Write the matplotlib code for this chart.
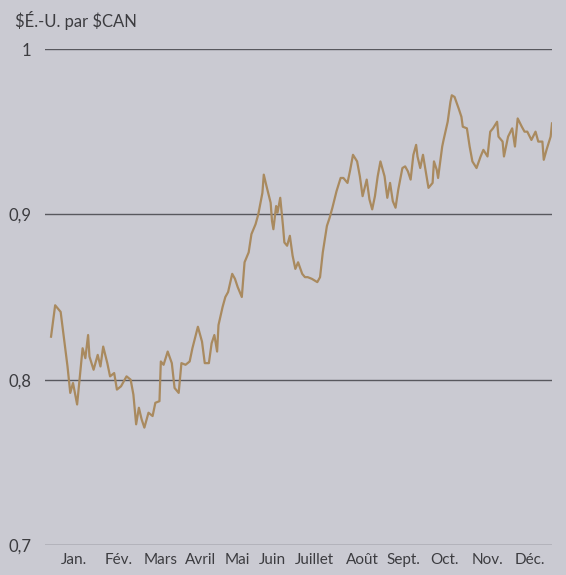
import matplotlib
matplotlib.use("Agg")
import matplotlib.pyplot as plt

plt.rcParams['font.family'] = ['Lato', 'DejaVu Sans']

# Day of year (0 = 1 Jan) and exchange rate ($US per $CAN)
days = [0, 3, 7, 9, 12, 14, 16, 19, 21, 23, 25, 27, 28, 31, 34, 36, 38, 41, 43, 46,
        48, 51, 55, 58, 60, 62, 64, 66, 68, 71, 74, 76, 79, 80, 82, 85, 88, 90, 93, 95,
        98, 101, 103, 107, 110, 112, 115, 117, 119, 121, 122, 125, 127, 129, 132, 134, 136, 139, 141, 144,
        146, 149, 151, 154, 155, 157, 160, 161, 162, 164, 165, 167, 169, 170, 172, 174, 176, 178, 180, 183,
        185, 187, 190, 194, 196, 198, 201, 203, 205, 208, 211, 213, 216, 218, 220, 223, 225, 227, 230, 232,
        234, 236, 238, 240, 243, 245, 247, 249, 251, 253, 256, 258, 260, 262, 264, 266, 267, 269, 271, 274,
        275, 278, 279, 281, 282, 285, 286, 289, 291, 292, 294, 297, 299, 300, 303, 305, 307, 310, 313, 315,
        318, 320, 322, 325, 326, 329, 330, 333, 336, 338, 340, 343, 345, 347, 350, 353, 355, 358, 359, 361,
        364, 365]
rates = [0.826, 0.845, 0.841, 0.828, 0.808, 0.792, 0.798, 0.785, 0.802, 0.819, 0.813, 0.827, 0.814, 0.806, 0.815, 0.808, 0.820, 0.810, 0.802, 0.804,
         0.794, 0.796, 0.802, 0.800, 0.791, 0.773, 0.783, 0.776, 0.771, 0.780, 0.778, 0.786, 0.787, 0.811, 0.809, 0.817, 0.810, 0.795, 0.792, 0.810,
         0.809, 0.811, 0.819, 0.832, 0.823, 0.810, 0.810, 0.822, 0.827, 0.817, 0.833, 0.844, 0.850, 0.853, 0.864, 0.861, 0.856, 0.850, 0.871, 0.877,
         0.888, 0.894, 0.900, 0.913, 0.924, 0.917, 0.907, 0.896, 0.891, 0.905, 0.901, 0.910, 0.893, 0.883, 0.881, 0.887, 0.875, 0.867, 0.871, 0.864,
         0.862, 0.862, 0.861, 0.859, 0.862, 0.877, 0.893, 0.898, 0.904, 0.914, 0.922, 0.922, 0.919, 0.927, 0.936, 0.932, 0.923, 0.911, 0.921, 0.909,
         0.903, 0.911, 0.923, 0.932, 0.923, 0.910, 0.919, 0.908, 0.904, 0.915, 0.928, 0.929, 0.926, 0.921, 0.936, 0.942, 0.935, 0.928, 0.936, 0.921,
         0.916, 0.919, 0.932, 0.927, 0.922, 0.941, 0.945, 0.956, 0.968, 0.972, 0.971, 0.964, 0.959, 0.953, 0.952, 0.941, 0.932, 0.928, 0.935, 0.939,
         0.935, 0.950, 0.952, 0.956, 0.947, 0.944, 0.935, 0.947, 0.952, 0.941, 0.958, 0.953, 0.950, 0.950, 0.945, 0.950, 0.944, 0.944, 0.933, 0.939,
         0.947, 0.955]

months = ['Jan.', 'Fév.', 'Mars', 'Avril', 'Mai', 'Juin', 'Juillet', 'Août',
          'Sept.', 'Oct.', 'Nov.', 'Déc.']
month_pos = [17, 49, 80, 109, 136, 161, 192, 227, 257, 287, 318, 349]

y_ticks = [0.7, 0.8, 0.9, 1.0]
y_labels = ['0,7', '0,8', '0,9', '1']

bg = '#cacad2'
text_col = '#3c3c40'

fig = plt.figure(figsize=(5.66, 5.75), dpi=100, facecolor=bg)
ax = fig.add_axes([45/566, 1 - 545/575, 507/566, 496/575], facecolor=bg)

for yv in y_ticks:
    ax.axhline(yv, color='#58585e', lw=1.0, zorder=1)

ax.plot(days, rates, color='#a98a5f', lw=1.6, zorder=3, solid_joinstyle='round')

ax.set_xlim(-4.4, 365)
ax.set_ylim(0.7, 1.0)
ax.set_yticks(y_ticks)
ax.set_yticklabels(y_labels)
ax.set_xticks(month_pos)
ax.set_xticklabels(months)
ax.tick_params(axis='both', length=0, colors=text_col)
ax.tick_params(axis='y', pad=10, labelsize=12)
ax.tick_params(axis='x', pad=6, labelsize=11)
for s in ax.spines.values():
    s.set_visible(False)

fig.text(15/566, 1 - 21/575, '\\$É.-U. par \\$CAN', fontsize=12, color=text_col,
         va='center', ha='left')

fig.savefig('out.png', dpi=100, facecolor=bg)
